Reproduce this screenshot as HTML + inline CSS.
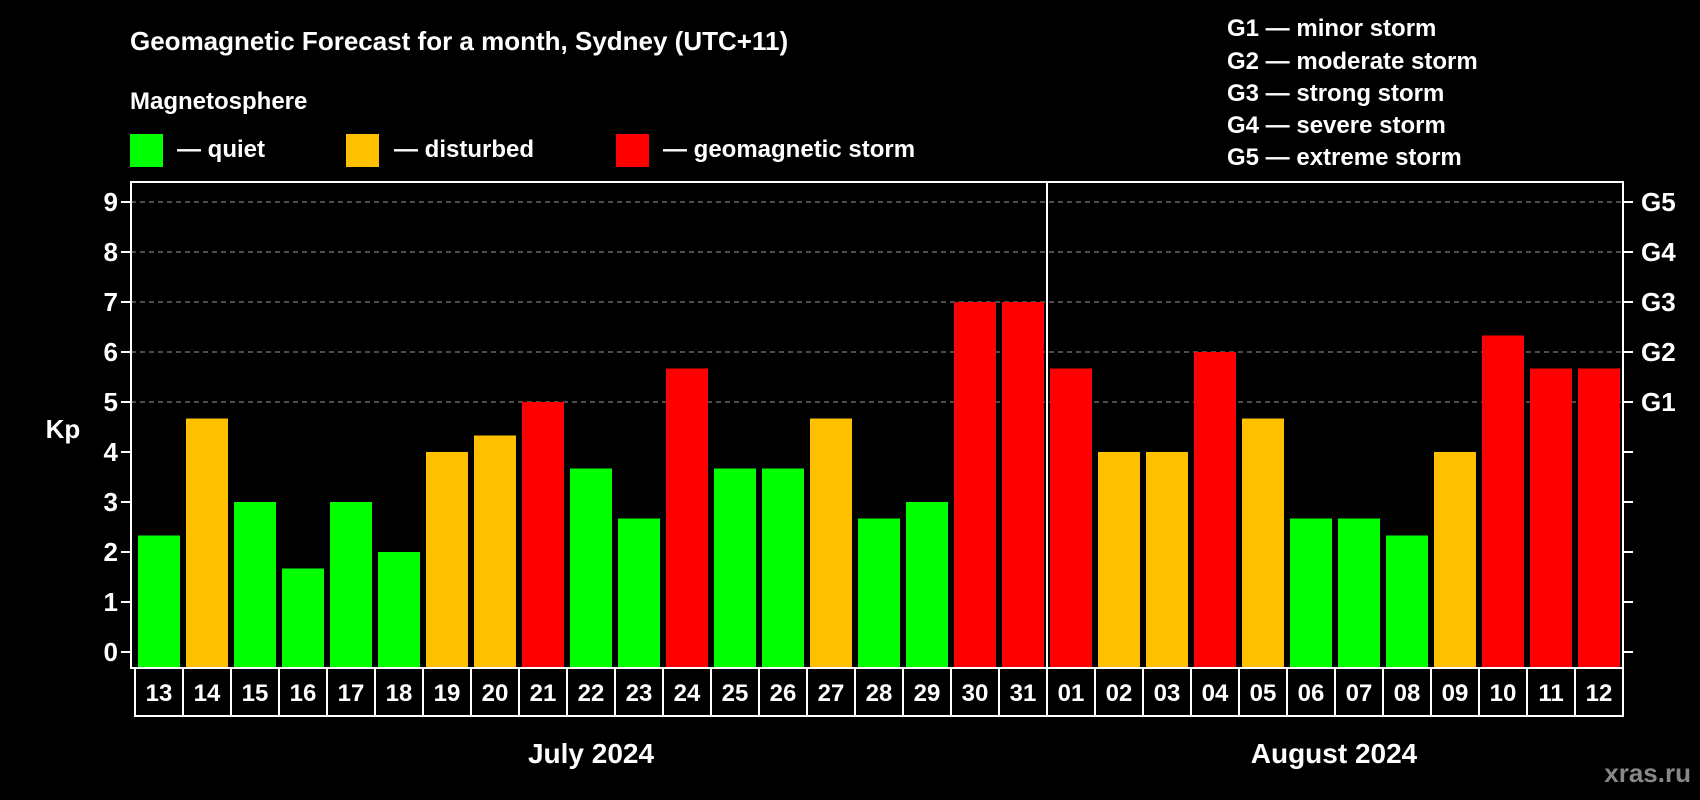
<!DOCTYPE html>
<html><head><meta charset="utf-8"><style>
html,body{margin:0;padding:0;background:#000;}
svg{display:block;font-family:"Liberation Sans",Arial,sans-serif;font-weight:bold;}
</style></head><body>
<svg id="chart" width="1700" height="800" viewBox="0 0 1700 800">
<rect x="0" y="0" width="1700" height="800" fill="#000"/>
<text x="130" y="50" fill="#fff" font-size="26">Geomagnetic Forecast for a month, Sydney (UTC+11)</text>
<text x="130" y="109" fill="#fff" font-size="24">Magnetosphere</text>
<g>
<rect x="130" y="134" width="33" height="33" fill="#00ff00"/>
<text x="177" y="157" fill="#fff" font-size="24">— quiet</text></g>
<g>
<rect x="346" y="134" width="33" height="33" fill="#ffc000"/>
<text x="394" y="157" fill="#fff" font-size="24">— disturbed</text></g>
<g>
<rect x="616" y="134" width="33" height="33" fill="#ff0000"/>
<text x="663" y="157" fill="#fff" font-size="24">— geomagnetic storm</text></g>
<g font-size="24" fill="#fff">
<text x="1227" y="36">G1 — minor storm</text>
<text x="1227" y="69">G2 — moderate storm</text>
<text x="1227" y="101">G3 — strong storm</text>
<text x="1227" y="133">G4 — severe storm</text>
<text x="1227" y="165">G5 — extreme storm</text>
</g>
<g id="grid"></g>
<g id="bars"></g>
<g id="axes"></g>
<text x="63" y="438" fill="#fff" font-size="26" text-anchor="middle">Kp</text>
<text x="591" y="763" fill="#fff" font-size="28" text-anchor="middle">July 2024</text>
<text x="1334" y="763" fill="#fff" font-size="28" text-anchor="middle">August 2024</text>
<text x="1691" y="782" fill="#888" font-size="26" text-anchor="end">xras.ru</text>
</svg>
<script>
const days = ["13","14","15","16","17","18","19","20","21","22","23","24","25","26","27","28","29","30","31","01","02","03","04","05","06","07","08","09","10","11","12"];
const kpValues = [2.33,4.67,3,1.67,3,2,4,4.33,5,3.67,2.67,5.67,3.67,3.67,4.67,2.67,3,7,7,5.67,4,4,6,4.67,2.67,2.67,2.33,4,6.33,5.67,5.67];
const yTicks = [0,1,2,3,4,5,6,7,8,9];
const gLabels = ["G1","G2","G3","G4","G5"];
const gLevels = [5,6,7,8,9];
const gridLevels = [5,6,7,8,9];
const monthSplit = 19;

const NS="http://www.w3.org/2000/svg";
const L=131,R=1623,T=182,B=668,Y0=652,Y9=202;
const step=48,firstX=138,barW=42,boxL=135;
function y(v){return Y0-(v/9)*(Y0-Y9);}
function xBar(i){return firstX+i*step;}
function mk(tag,attrs,parent){const e=document.createElementNS(NS,tag);for(const k in attrs)e.setAttribute(k,attrs[k]);parent.appendChild(e);return e;}
function col(v){return v>=5?"#ff0000":(v>=4?"#ffc000":"#00ff00");}
const grid=document.getElementById('grid'),bars=document.getElementById('bars'),axes=document.getElementById('axes');
gridLevels.forEach(v=>{
  const l=mk('line',{x1:L,x2:R,y1:y(v),y2:y(v),stroke:"#999","stroke-width":1,"stroke-dasharray":"5,4"},grid);
  
  
});
kpValues.forEach((v,i)=>{
  const r=mk('rect',{x:xBar(i),y:y(v),width:barW,height:B-y(v),fill:col(v)},bars);
  
  
});
const fr=mk('rect',{x:L,y:T,width:R-L,height:B-T,fill:"none",stroke:"#fff","stroke-width":2},axes);


yTicks.forEach(v=>{
  const t=mk('line',{x1:L-10,x2:L,y1:y(v),y2:y(v),stroke:"#fff","stroke-width":2},axes);
  
  
  const t2=mk('line',{x1:R,x2:R+10,y1:y(v),y2:y(v),stroke:"#fff","stroke-width":2},axes);
  
  
  const tx=mk('text',{x:118,y:y(v)+9,fill:"#fff","font-size":26,"text-anchor":"end"},axes);
  tx.textContent=v;
  
  
});
gLabels.forEach((g,i)=>{
  const tx=mk('text',{x:1641,y:y(gLevels[i])+9,fill:"#fff","font-size":26},axes);
  tx.textContent=g;
  
  
});
days.forEach((d,i)=>{
  const bx=mk('rect',{x:boxL+i*step,y:B,width:step,height:48,fill:"none",stroke:"#fff","stroke-width":2},axes);
  
  
  const tx=mk('text',{x:boxL+i*step+step/2,y:B+33,fill:"#fff","font-size":24,"text-anchor":"middle"},axes);
  tx.textContent=d;
  
  
});
const dv=mk('line',{x1:boxL+monthSplit*step,x2:boxL+monthSplit*step,y1:T,y2:B+48,stroke:"#fff","stroke-width":2},axes);


</script>
</body></html>
